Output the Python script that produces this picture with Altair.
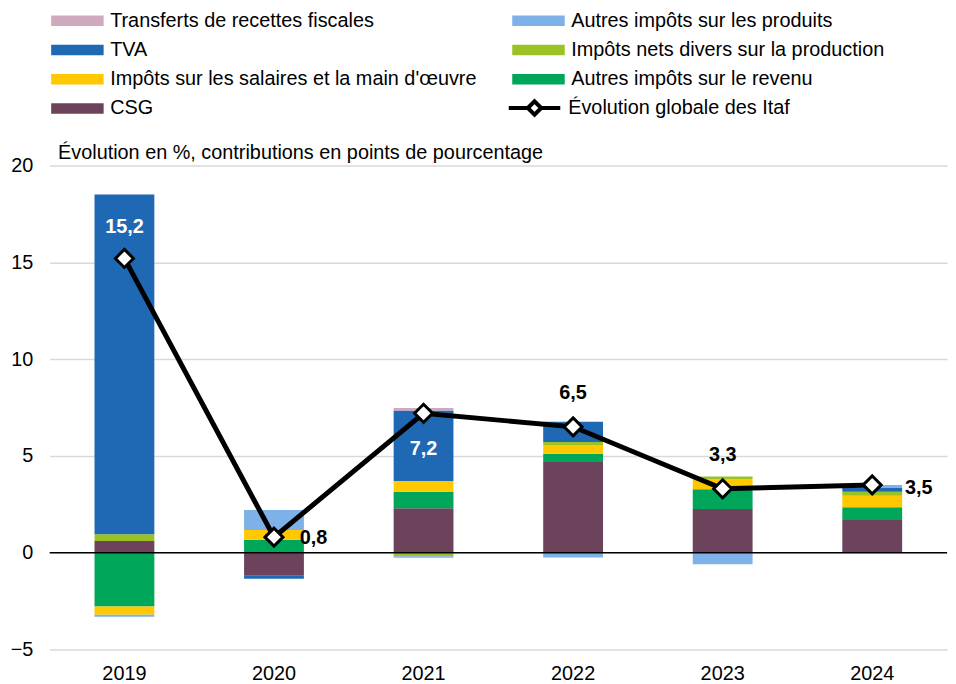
import altair as alt
import pandas as pd

years = ["2019", "2020", "2021", "2022", "2023", "2024"]

# contributions (points de pourcentage), in stacking order from zero outward
csg = [0.60, -1.20, 2.29, 4.68, 2.26, 1.69]
autres_revenu = [-2.78, 0.67, 0.85, 0.43, 1.02, 0.65]
salaires = [-0.43, 0.50, 0.56, 0.43, 0.52, 0.60]
divers_production = [0.35, 0.00, -0.19, 0.17, 0.13, 0.20]
tva = [17.55, -0.15, 3.65, 1.05, 0.00, 0.20]
autres_produits = [-0.10, 1.03, -0.07, -0.25, -0.60, 0.15]
transferts = [0.00, 0.00, 0.12, 0.00, 0.00, 0.00]

total = [15.2, 0.8, 7.2, 6.5, 3.3, 3.5]

series_names = [
    "CSG",
    "Autres impôts sur le revenu",
    "Impôts sur les salaires et la main d'œuvre",
    "Impôts nets divers sur la production",
    "TVA",
    "Autres impôts sur les produits",
    "Transferts de recettes fiscales",
]
series_values = [csg, autres_revenu, salaires, divers_production, tva,
                 autres_produits, transferts]

# legend is filled column by column
legend_order = [
    "Transferts de recettes fiscales",
    "TVA",
    "Impôts sur les salaires et la main d'œuvre",
    "CSG",
    "Autres impôts sur les produits",
    "Impôts nets divers sur la production",
    "Autres impôts sur le revenu",
]
legend_colors = ["#CFA9BD", "#1F69B4", "#FFC800", "#6C435A",
                 "#7DB1E8", "#9BC224", "#00A65A"]

line_name = "Évolution globale des Itaf"

rows = []
for k, (name, vals) in enumerate(zip(series_names, series_values)):
    for y, v in zip(years, vals):
        rows.append({"annee": y, "serie": name, "valeur": v, "ordre": k})
bars_df = pd.DataFrame(rows)
line_df = pd.DataFrame({"annee": years, "total": total, "nom": [line_name] * len(years)})

FONT = "Liberation Sans"

x_enc = alt.X("annee:N", title=None,
              scale=alt.Scale(paddingInner=0.6, paddingOuter=0.3),
              axis=alt.Axis(labelAngle=0, domain=False, ticks=False, grid=False,
                            labelFontSize=20, labelFont=FONT, labelColor="#000000",
                            labelPadding=14))
y_scale = alt.Scale(domain=[-5, 20], nice=False, zero=False)

bars = alt.Chart(bars_df).mark_bar().encode(
    x=x_enc,
    y=alt.Y("valeur:Q", scale=y_scale, stack="zero",
            title="Évolution en %, contributions en points de pourcentage",
            axis=alt.Axis(values=[-5, 0, 5, 10, 15, 20], domain=False, ticks=False,
                          grid=True, gridColor="#D9D9D9", gridWidth=1.5,
                          labelFontSize=20, labelFont=FONT, labelColor="#000000",
                          labelPadding=17,
                          titleAngle=0, titleAlign="left", titleBaseline="middle",
                          titleX=8, titleY=-13, titleFontSize=20, titleFont=FONT,
                          titleFontWeight="normal", titleColor="#000000")),
    color=alt.Color("serie:N",
                    scale=alt.Scale(domain=legend_order, range=legend_colors),
                    legend=alt.Legend(
                        title=None, orient="none", legendX=2, legendY=-156,
                        columns=2, columnPadding=35, rowPadding=9.5,
                        symbolType="M-5,-1H5V1H-5Z", symbolSize=112,
                        symbolOffset=16, labelOffset=23,
                        symbolStrokeWidth=0, symbolOpacity=1,
                        labelFontSize=20, labelFont=FONT, labelColor="#000000",
                        labelLimit=600)),
    order=alt.Order("ordre:Q", sort="ascending"),
)

zero_rule = alt.Chart(pd.DataFrame({"z": [0]})).mark_rule(
    color="#000000", strokeWidth=1.5).encode(y=alt.Y("z:Q", scale=y_scale))

stroke_enc = alt.Stroke("nom:N", scale=alt.Scale(domain=[line_name], range=["#000000"]),
                        legend=alt.Legend(
                            title=None, orient="none", legendX=463, legendY=-68,
                            symbolType="M-5,0H-1.3M1.3,0H5M-1.3,0L0,-1.3L1.3,0L0,1.3Z",
                            symbolSize=108, symbolOffset=16, labelOffset=24,
                            symbolStrokeWidth=4, symbolFillColor="#FFFFFF",
                            symbolStrokeColor="#000000",
                            labelFontSize=20, labelFont=FONT, labelColor="#000000",
                            labelLimit=600))

line = alt.Chart(line_df).mark_line(strokeWidth=5).encode(
    x=alt.X("annee:N"),
    y=alt.Y("total:Q", scale=y_scale),
    stroke=stroke_enc,
)
points = alt.Chart(line_df).mark_point(shape="diamond", filled=True, fill="#FFFFFF",
                                       size=330, strokeWidth=3, opacity=1).encode(
    x=alt.X("annee:N"),
    y=alt.Y("total:Q", scale=y_scale),
    stroke=stroke_enc,
)

base_txt = alt.Chart(line_df).transform_calculate(
    lab="replace(format(datum.total, '.1f'), '.', ',')")


def label_layer(yrs, color, dx, dy, align):
    return base_txt.transform_filter(
        alt.FieldOneOfPredicate(field="annee", oneOf=yrs)
    ).mark_text(fontSize=20, fontWeight="bold", font=FONT, color=color,
                dx=dx, dy=dy, align=align, baseline="middle").encode(
        x=alt.X("annee:N"),
        y=alt.Y("total:Q", scale=y_scale),
        text="lab:N",
    )


labels = [
    label_layer(["2019"], "#FFFFFF", 0, -32, "center"),
    label_layer(["2021"], "#FFFFFF", 0, 36, "center"),
    label_layer(["2022", "2023"], "#000000", 0, -34, "center"),
    label_layer(["2020"], "#000000", 26, 1, "left"),
    label_layer(["2024"], "#000000", 33, 3, "left"),
]

chart = alt.layer(bars, zero_rule, line, points, *labels).properties(
    width=905, height=488,
    autosize=alt.AutoSizeParams(type="none"),
    padding={"left": 42, "top": 156, "right": 1, "bottom": 32},
).configure_view(stroke=None).resolve_scale(stroke="shared")

chart.save("out.html", embed_options={"renderer": "svg", "actions": False})
